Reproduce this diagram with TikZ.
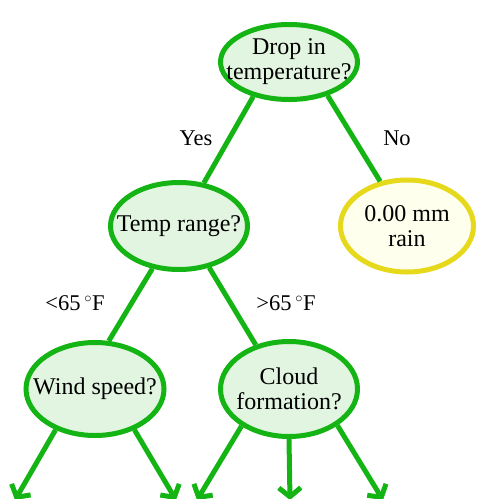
\documentclass[tikz,border=0pt]{standalone}
\usepackage{fontspec}
\setmainfont{Liberation Serif}
\usetikzlibrary{shapes.geometric,arrows.meta}
\definecolor{treegreen}{RGB}{20,180,20}
\definecolor{nodefill}{RGB}{226,245,224}
\definecolor{leafline}{RGB}{230,216,26}
\definecolor{leaffill}{RGB}{255,255,238}
\begin{document}
\begin{tikzpicture}[x=1pt,y=-1pt,
  qnode/.style={ellipse,draw=treegreen,fill=nodefill,line width=5pt,inner xsep=-30pt,inner ysep=0pt,align=center,font=\fontsize{24}{25}\selectfont},
  leaf/.style={ellipse,draw=leafline,fill=leaffill,line width=5pt,inner xsep=-30pt,inner ysep=0pt,align=center,font=\fontsize{24}{25}\selectfont},
  edge/.style={draw=treegreen,line width=5pt},
  arr/.style={draw=treegreen,line width=5pt,-{Straight Barb[length=9pt,width=22pt,line width=5pt]}},
  lbl/.style={font=\fontsize{22.5}{25}\selectfont,inner sep=0pt}]
\useasboundingbox (0,0) rectangle (477,499);
\node[qnode,minimum width=137pt,minimum height=75pt] (top) at (289,62) {Drop in\\temperature?};
\node[qnode,minimum width=137pt,minimum height=87pt] (temp) at (179,226) {Temp range?};
\node[leaf,minimum width=133pt,minimum height=92pt] (rain) at (407,226) {0.00 mm\\rain};
\node[qnode,minimum width=138pt,minimum height=93pt] (wind) at (95,389) {Wind speed?};
\node[qnode,minimum width=137pt,minimum height=95pt] (cloud) at (289,389) {Cloud\\formation?};
\draw[edge] (top.224) -- (temp.60);
\draw[edge] (top.319) -- (rain.121);
\draw[edge] (temp.238) -- (wind.74);
\draw[edge] (temp.306) -- (cloud.127);
\node[lbl] (yes) at (196,138) {Yes};
\node[lbl] (no) at (397,138) {No};
\node[lbl] (lt) at (75,303) {<65\,$^\circ$F};
\node[lbl] (gt) at (286,303) {>65\,$^\circ$F};
\coordinate (w1) at (15,500);
\coordinate (w2) at (176,500);
\coordinate (c1) at (197,500);
\coordinate (c2) at (290,500);
\coordinate (c3) at (383,500);
\draw[arr] (wind.226) -- (w1);
\draw[arr] (wind.314) -- (w2);
\draw[arr] (cloud.218) -- (c1);
\draw[arr] (cloud.270) -- (c2);
\draw[arr] (cloud.323) -- (c3);
\end{tikzpicture}
\end{document}
